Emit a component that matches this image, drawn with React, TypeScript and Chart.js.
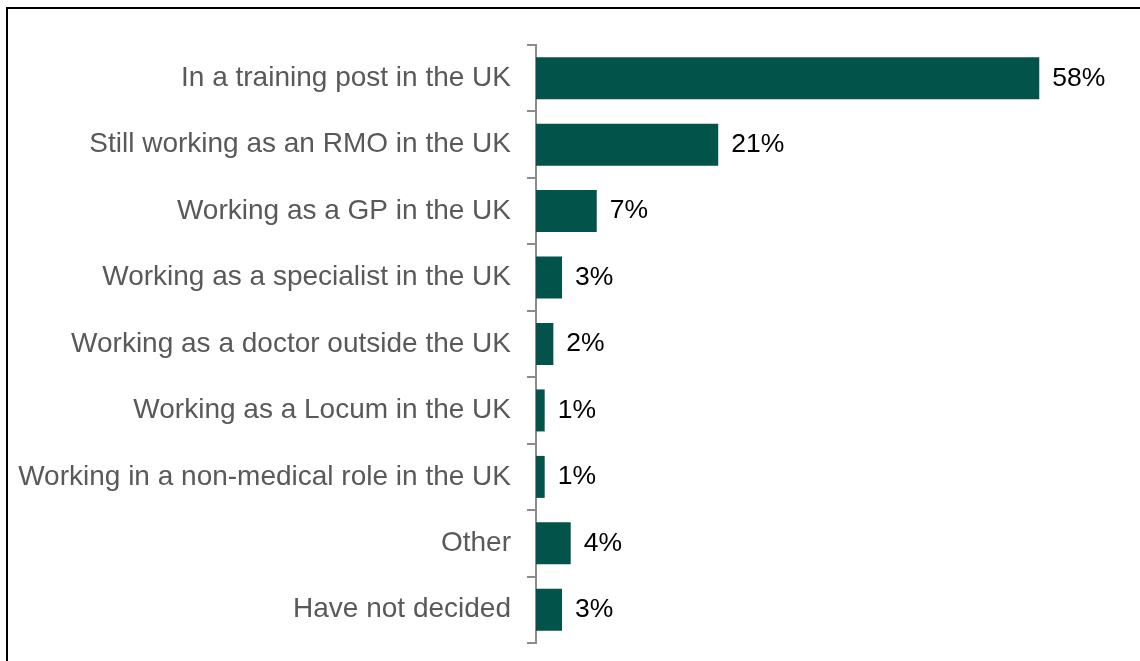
import React, { useEffect, useRef } from "react";
import { Chart, registerables } from "chart.js";

Chart.register(...registerables);

const categories = [
  "In a training post in the UK",
  "Still working as an RMO in the UK",
  "Working as a GP in the UK",
  "Working as a specialist in the UK",
  "Working as a doctor outside the UK",
  "Working as a Locum in the UK",
  "Working in a non-medical role in the UK",
  "Other",
  "Have not decided",
];
const values = [58, 21, 7, 3, 2, 1, 1, 4, 3];
const valueLabels = ["58%", "21%", "7%", "3%", "2%", "1%", "1%", "4%", "3%"];

const FONT = "'Liberation Sans', Arial, sans-serif";

const valueLabelPlugin = {
  id: "valueLabels",
  afterDatasetsDraw(chart: any) {
    const ctx = chart.ctx;
    const meta = chart.getDatasetMeta(0);
    ctx.save();
    ctx.font = `26.5px ${FONT}`;
    ctx.fillStyle = "#000000";
    ctx.textAlign = "left";
    ctx.textBaseline = "middle";
    meta.data.forEach((bar: any, i: number) => {
      ctx.fillText(valueLabels[i], bar.x + 13, bar.y);
    });
    ctx.restore();
  },
};

export default function App() {
  const ref = useRef<HTMLCanvasElement | null>(null);
  useEffect(() => {
    if (!ref.current) return;
    const chart = new Chart(ref.current, {
      type: "bar",
      data: {
        labels: categories,
        datasets: [
          {
            data: values,
            backgroundColor: "#02534A",
            borderWidth: 0,
            barPercentage: 0.632,
            categoryPercentage: 1,
          },
        ],
      },
      options: {
        indexAxis: "y",
        animation: false,
        responsive: false,
        maintainAspectRatio: false,
        layout: { padding: { top: 36, bottom: 18, left: 0, right: 40 } },
        plugins: {
          legend: { display: false },
          tooltip: { enabled: false },
        },
        scales: {
          x: {
            display: false,
            min: 0,
            max: 65,
          },
          y: {
            afterFit(scale: any) {
              scale.width = 528;
              scale.paddingTop = 0;
              scale.paddingBottom = 0;
            },
            border: { display: true, color: "#8c8c8c", width: 2 },
            grid: {
              display: true,
              drawOnChartArea: false,
              drawTicks: true,
              tickLength: 9,
              color: "#8c8c8c",
              lineWidth: 2,
              offset: true,
            },
            ticks: {
              padding: 16,
              color: "#595959",
              font: { family: FONT, size: 28 },
            },
          },
        },
      },
      plugins: [valueLabelPlugin],
    });
    return () => chart.destroy();
  }, []);

  return (
    <div style={{ position: "fixed", inset: 0, overflow: "hidden", background: "#fff" }}>
      <div
        style={{
          position: "absolute",
          left: 6,
          top: 7,
          width: 1200,
          height: 720,
          border: "2px solid #000",
          boxSizing: "content-box",
        }}
      >
        <canvas ref={ref} width={1132} height={652} style={{ display: "block" }} />
      </div>
    </div>
  );
}
